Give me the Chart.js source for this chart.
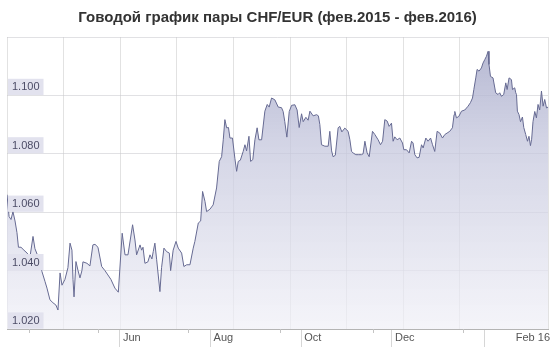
<!DOCTYPE html>
<html>
<head>
<meta charset="utf-8">
<script src="https://cdn.jsdelivr.net/npm/chart.js@4.4.0/dist/chart.umd.min.js"></script>
<style>
  html, body { margin: 0; padding: 0; background: #fff; }
  #wrap { width: 555px; height: 350px; }
</style>
</head>
<body>
<div id="wrap"><canvas id="rateChart"></canvas></div>
<script>
// day number counted from 16 Mar 2015, CHF/EUR rate
const days = [
  1.0, 2.4, 3.7, 5.0, 6.4, 7.7, 8.7, 10.4, 12.4, 14.5, 16.5, 18.5, 19.8, 21.9, 24.5, 26.6, 27.9, 29.9, 31.9, 33.9,
  35.3, 36.7, 38.0, 40.0, 42.0, 43.4, 44.7, 45.4, 46.1, 47.4, 48.8, 50.1, 51.4, 52.1, 54.8, 56.8, 58.8, 60.2, 62.2, 64.7,
  66.9, 68.9, 70.9, 73.6, 75.9, 78.5, 80.4, 82.4, 85.5, 87.1, 88.2, 90.5, 91.6, 92.5, 93.8, 95.8, 97.2, 98.5, 99.4, 100.5,
  101.7, 103.9, 105.0, 106.6, 108.4, 110.2, 111.1, 112.8, 114.7, 116.2, 118.5, 120.0, 121.9, 124.1, 126.3, 127.4, 129.7, 131.3, 132.6, 134.2,
  135.3, 137.5, 139.7, 142.0, 143.8, 145.4, 146.5, 147.6, 148.8, 150.0, 151.0, 152.7, 154.3, 155.5, 156.6, 158.0, 159.9, 161.1, 162.2, 163.8,
  164.9, 166.4, 167.8, 169.3, 170.5, 172.3, 174.5, 176.1, 177.4, 179.0, 181.2, 183.5, 185.7, 186.8, 187.9, 189.3, 190.9, 192.5, 194.7, 196.2,
  197.6, 199.2, 200.3, 202.1, 203.6, 204.8, 207.0, 209.3, 210.5, 211.5, 212.6, 214.9, 217.1, 218.2, 219.4, 220.4, 221.9, 223.8, 224.9, 226.3,
  228.3, 230.5, 231.7, 232.8, 233.9, 235.7, 237.3, 239.5, 240.6, 241.8, 243.3, 244.7, 246.9, 248.5, 250.7, 252.3, 253.7, 255.2, 256.8, 258.1,
  259.7, 260.8, 261.9, 263.5, 265.3, 267.1, 268.0, 269.8, 271.6, 273.2, 274.2, 275.4, 276.9, 278.3, 279.9, 281.0, 282.8, 284.3, 286.0, 287.3,
  288.8, 290.4, 292.2, 294.0, 295.6, 297.1, 298.9, 300.7, 301.8, 302.3, 303.4, 305.0, 306.8, 309.0, 311.2, 312.8, 314.2, 315.1, 316.4, 317.3,
  318.6, 320.2, 321.3, 322.5, 323.6, 324.7, 325.3, 326.3, 328.0, 329.8, 331.4, 332.5, 333.7, 335.2, 336.6, 337.5, 338.8, 340.4, 341.1, 342.6,
  343.3, 343.8, 344.4, 345.5, 346.5, 347.8, 348.7, 350.0, 351.2, 352.2, 353.2, 354.0, 354.9, 356.1, 357.2, 358.3, 359.4, 360.6, 361.7, 362.8,
  364.0, 365.0
];
const rates = [
  1.0660, 1.0585, 1.0575, 1.0602, 1.0570, 1.0530, 1.0480, 1.0480, 1.0470, 1.0460, 1.0448, 1.0517, 1.0475, 1.0448, 1.0397, 1.0362, 1.0340, 1.0300, 1.0290, 1.0282,
  1.0265, 1.0392, 1.0350, 1.0370, 1.0410, 1.0494, 1.0470, 1.0370, 1.0310, 1.0431, 1.0400, 1.0375, 1.0400, 1.0430, 1.0425, 1.0416, 1.0488, 1.0490, 1.0480, 1.0414,
  1.0400, 1.0385, 1.0370, 1.0340, 1.0326, 1.0528, 1.0454, 1.0454, 1.0557, 1.0505, 1.0454, 1.0488, 1.0470, 1.0480, 1.0425, 1.0430, 1.0454, 1.0440, 1.0465, 1.0494,
  1.0437, 1.0328, 1.0410, 1.0477, 1.0465, 1.0460, 1.0400, 1.0470, 1.0500, 1.0477, 1.0460, 1.0414, 1.0420, 1.0420, 1.0477, 1.0500, 1.0563, 1.0570, 1.0671, 1.0637,
  1.0602, 1.0610, 1.0625, 1.0683, 1.0774, 1.0790, 1.0848, 1.0917, 1.0889, 1.0890, 1.0854, 1.0854, 1.0785, 1.0740, 1.0774, 1.0778, 1.0808, 1.0831, 1.0810, 1.0860,
  1.0774, 1.0780, 1.0848, 1.0889, 1.0848, 1.0848, 1.0946, 1.0969, 1.0960, 1.0991, 1.0985, 1.0960, 1.0958, 1.0945, 1.0910, 1.0857, 1.0945, 1.0966, 1.0968, 1.0950,
  1.0890, 1.0937, 1.0910, 1.0925, 1.0915, 1.0946, 1.0930, 1.0934, 1.0930, 1.0900, 1.0831, 1.0826, 1.0826, 1.0877, 1.0810, 1.0790, 1.0795, 1.0889, 1.0894, 1.0875,
  1.0888, 1.0877, 1.0848, 1.0808, 1.0803, 1.0797, 1.0797, 1.0797, 1.0800, 1.0843, 1.0803, 1.0790, 1.0877, 1.0866, 1.0848, 1.0831, 1.0843, 1.0917, 1.0912, 1.0894,
  1.0905, 1.0843, 1.0858, 1.0848, 1.0854, 1.0837, 1.0814, 1.0814, 1.0803, 1.0843, 1.0837, 1.0797, 1.0786, 1.0788, 1.0831, 1.0820, 1.0854, 1.0843, 1.0854, 1.0831,
  1.0808, 1.0877, 1.0871, 1.0854, 1.0866, 1.0871, 1.0877, 1.0889, 1.0934, 1.0945, 1.0923, 1.0928, 1.0946, 1.0950, 1.0963, 1.0975, 1.0991, 1.1020, 1.1060, 1.1089,
  1.1083, 1.1094, 1.1111, 1.1123, 1.1134, 1.1151, 1.1106, 1.1065, 1.1060, 1.1009, 1.1003, 1.1009, 1.0997, 1.1003, 1.1043, 1.1020, 1.1060, 1.1054, 1.1020, 1.1026,
  1.1009, 1.1003, 1.0946, 1.0934, 1.0910, 1.0926, 1.0890, 1.0866, 1.0843, 1.0860, 1.0828, 1.0850, 1.0910, 1.0945, 1.0923, 1.0969, 1.0950, 1.1015, 1.0963, 1.0986,
  1.0957, 1.0960
];

// x axis: month starts (Jun 1, Aug 1, Oct 1, Dec 1, Feb 1) + spot for the "Feb 16" label
const monthTicks = [77, 138, 199, 260, 322, 341.3];
const monthLabels = ['Jun', 'Aug', 'Oct', 'Dec', '', 'Feb 16'];
// short unlabelled marks under the axis
const minorTicks = [16, 62, 123, 185, 247, 308];
const rateTicks = [1.02, 1.04, 1.06, 1.08, 1.10, 1.12];

// little tick marks just below the x axis
const minorTickPlugin = {
  id: 'minorTicks',
  afterDraw(chart) {
    const xs = chart.scales.x;
    const c = chart.ctx;
    c.save();
    c.strokeStyle = '#c4c4c4';
    c.lineWidth = 1;
    minorTicks.forEach(function (d) {
      const px = Math.round(xs.getPixelForValue(d)) + 0.5;
      c.beginPath();
      c.moveTo(px, xs.top);
      c.lineTo(px, xs.top + 4);
      c.stroke();
    });
    c.restore();
  }
};

const ctx = document.getElementById('rateChart').getContext('2d');

const chart = new Chart(ctx, {
  type: 'line',
  data: {
    datasets: [{
      label: 'CHF/EUR',
      data: days.map((d, i) => ({ x: d, y: rates[i] })),
      borderColor: '#666a92',
      borderWidth: 1,
      pointRadius: 0,
      tension: 0,
      fill: 'start',
      backgroundColor: function (context) {
        const area = context.chart.chartArea;
        if (!area) return 'rgba(190,192,215,0.8)';
        const g = context.chart.ctx.createLinearGradient(0, area.top, 0, area.bottom);
        g.addColorStop(0, 'rgba(165,168,200,0.85)');
        g.addColorStop(0.35, 'rgba(195,197,220,0.75)');
        g.addColorStop(1, 'rgba(240,240,247,0.7)');
        return g;
      }
    }]
  },
  plugins: [minorTickPlugin],
  options: {
    responsive: true,
    maintainAspectRatio: false,
    animation: false,
    layout: {
      padding: { left: 7, right: 7, bottom: 0, top: 0 }
    },
    scales: {
      x: {
        type: 'linear',
        min: 1,
        max: 365,
        afterBuildTicks: function (axis) {
          axis.ticks = monthTicks.map(v => ({ value: v }));
        },
        afterFit: function (axis) {
          axis.height = 21;
        },
        ticks: {
          autoSkip: false,
          maxRotation: 0,
          align: 'start',
          padding: -16,
          labelOffset: 3,
          color: '#555',
          font: { family: 'Liberation Sans, Arial, sans-serif', size: 11 },
          callback: function (value, index) {
            return monthLabels[index];
          }
        },
        grid: {
          drawOnChartArea: false,
          tickLength: 18,
          color: function (c) {
            return c.index === 5 ? 'rgba(0,0,0,0)' : '#d6d6d6';
          }
        },
        border: { color: '#b4b4b4' }
      },
      x2: {
        type: 'linear',
        position: 'top',
        min: 0,
        max: 9.558,
        ticks: { display: false, stepSize: 1 },
        grid: { drawTicks: false, color: '#e2e2e2' },
        border: { display: false }
      },
      y: {
        min: 1.02,
        max: 1.12,
        afterBuildTicks: function (axis) {
          axis.ticks = rateTicks.map(v => ({ value: v }));
        },
        afterFit: function (axis) {
          axis.width = 0;
        },
        ticks: {
          z: 1,
          mirror: true,
          padding: 5,
          labelOffset: -8,
          color: '#4c4c66',
          font: { family: 'Liberation Sans, Arial, sans-serif', size: 11 },
          showLabelBackdrop: true,
          backdropPadding: { left: 4, right: 4, top: 2, bottom: 1 },
          backdropColor: function (c) {
            return c.tick && c.tick.value > 1.11 ? 'rgba(0,0,0,0)' : '#e2e2ee';
          },
          callback: function (value) {
            return value > 1.11 ? '' : value.toFixed(3);
          }
        },
        grid: { drawTicks: false, color: 'rgba(200,200,205,0.55)' },
        border: { display: false }
      }
    },
    plugins: {
      legend: { display: false },
      tooltip: { enabled: false },
      title: {
        display: true,
        text: 'Говодой график пары CHF/EUR (фев.2015 - фев.2016)',
        color: '#333',
        font: { family: 'Liberation Sans, Arial, sans-serif', size: 15, weight: 'bold' },
        padding: { top: 9, bottom: 10 }
      }
    }
  }
});
</script>
</body>
</html>
